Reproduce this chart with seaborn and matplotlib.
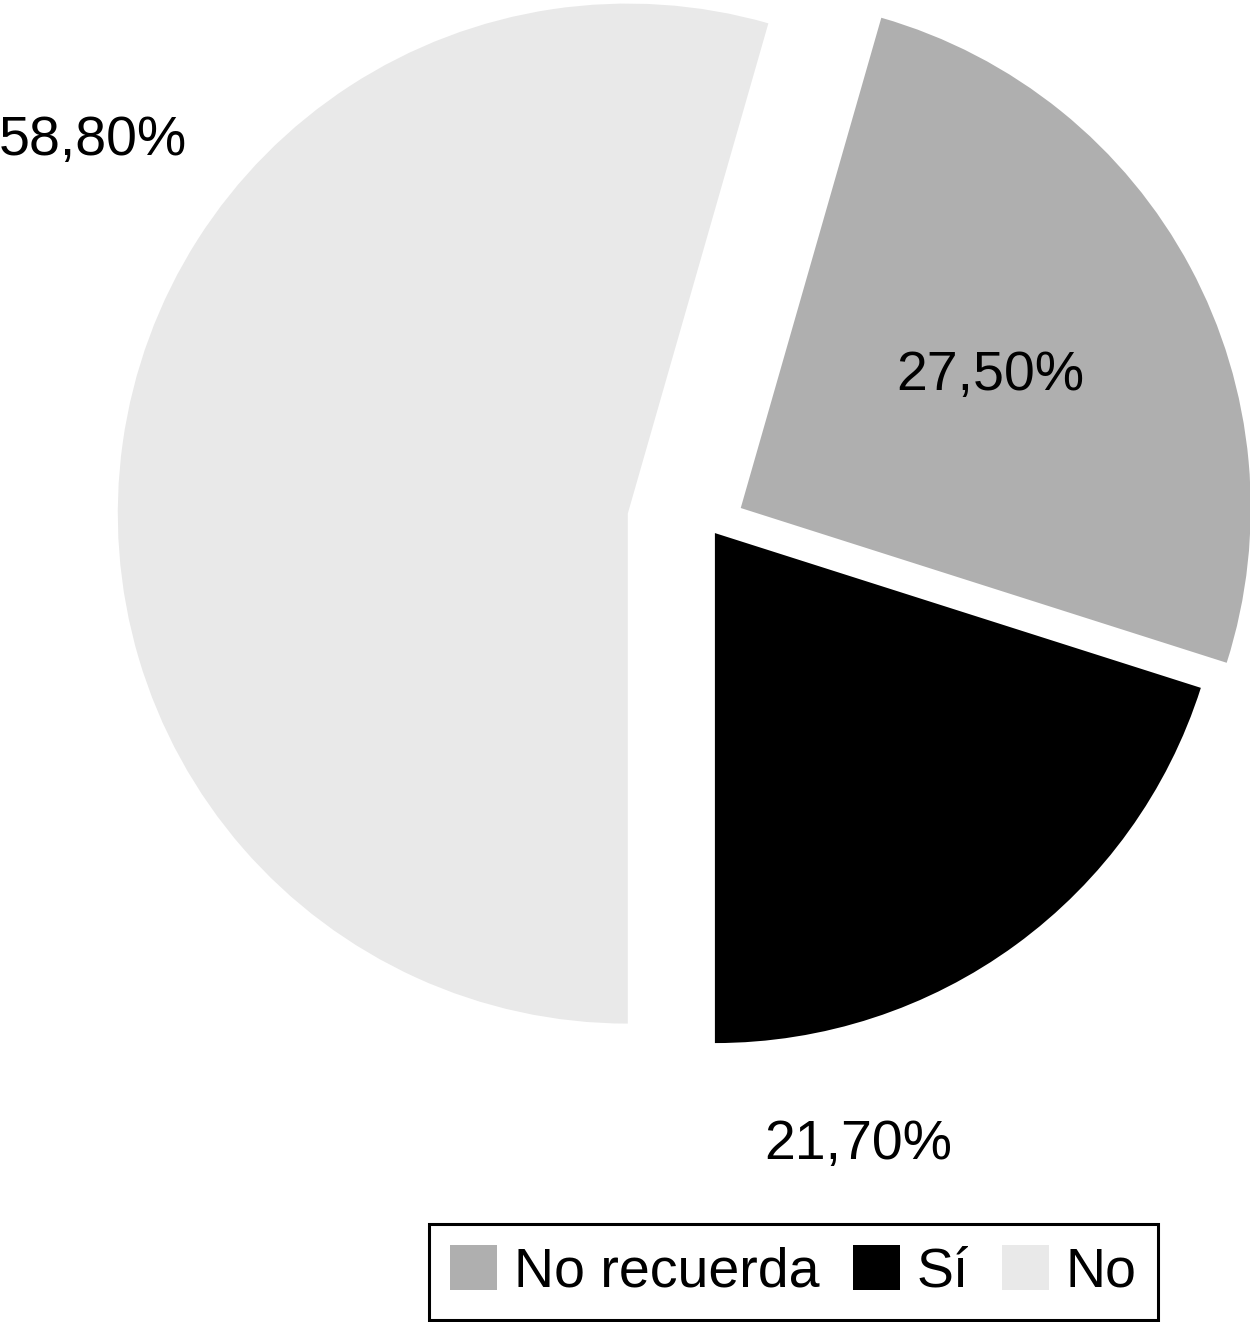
import numpy as np
import matplotlib
matplotlib.use('Agg')
import matplotlib.pyplot as plt
import seaborn as sns

## DATOS
categorias = ['No recuerda', 'Sí', 'No']
valores = [27.5, 21.7, 58.8]
etiquetas = ['27,50%', '21,70%', '58,80%']
colores = ['#afafaf', '#000000', '#e9e9e9']

sns.set_theme(style='white')
plt.rcParams['font.family'] = ['Liberation Sans', 'DejaVu Sans']
plt.rcParams['text.color'] = 'black'

W, H = 1250, 1322
fig = plt.figure(figsize=(W / 100, H / 100), dpi=100)
ax = fig.add_axes([0, 0, 1, 1])

# ejes en unidades de pixel: el radio y la separacion van en pixeles
radio = 510
centro = (709, H - 525)
separacion = [36, 10, 82]
wedges, _ = ax.pie(valores, colors=colores, startangle=74, counterclock=False,
                   explode=separacion, radius=radio, center=centro,
                   wedgeprops={'linewidth': 0}, frame=True)
ax.set_xlim(0, W)
ax.set_ylim(0, H)
ax.axis('off')

## ETIQUETAS DE PORCENTAJE (posiciones en pixeles de la figura)
pos_etiquetas = [(990, 390), (858, 1159), (93, 155)]
for txt, (px, py) in zip(etiquetas, pos_etiquetas):
    ax.text(px, H - py, txt, fontsize=40, ha='center', va='baseline', color='black')

## LEYENDA
leg = fig.legend(wedges, categorias, loc='lower right', ncol=3,
                 bbox_to_anchor=(1158 / W, 2 / H), bbox_transform=fig.transFigure,
                 fontsize=40, frameon=True, fancybox=False, framealpha=1,
                 edgecolor='black', handlelength=0.85, handleheight=0.88,
                 handletextpad=0.3, columnspacing=0.6, borderpad=0.38,
                 borderaxespad=0, labelcolor='black')
leg.get_frame().set_linewidth(2.2)

fig.savefig('out.png', dpi=100)
